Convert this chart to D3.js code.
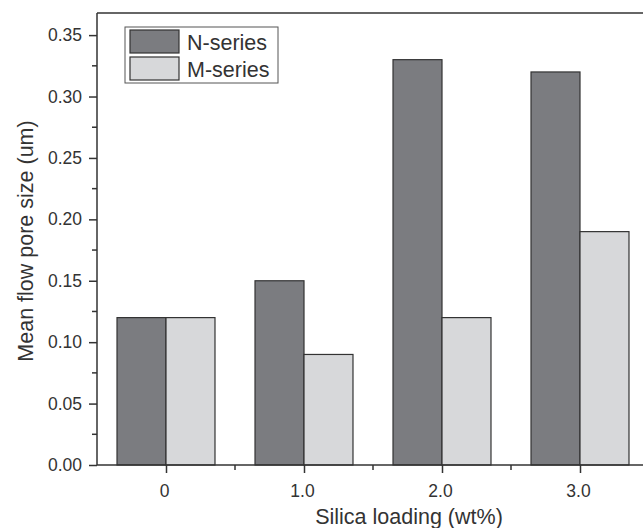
<!DOCTYPE html>
<html>
<head>
<meta charset="utf-8">
<script src="https://cdn.jsdelivr.net/npm/d3@7"></script>
<style>
  body { margin: 0; background: #fff; }
  svg { display: block; font-family: "Liberation Sans", Arial, sans-serif; }
</style>
</head>
<body>
<svg id="chart"></svg>
<script>
// data
const categories = [0, 1, 2, 3];
const categoryLabels = ["0", "1.0", "2.0", "3.0"];
const seriesNames = ["N-series", "M-series"];
const nSeries = [0.12, 0.15, 0.33, 0.32];
const mSeries = [0.12, 0.09, 0.12, 0.19];
const yTicks = [0, 0.05, 0.10, 0.15, 0.20, 0.25, 0.30, 0.35];
const yMinorTicks = [0.025, 0.075, 0.125, 0.175, 0.225, 0.275, 0.325];
const xMinorTicks = [0.5, 1.5, 2.5];

const width = 643, height = 528;
const plotLeft = 97, plotTop = 13, plotRight = 649, plotBottom = 465;
const colors = ["#7b7c80", "#d7d8da"];
const stroke = "#333";
const textColor = "#333";

const svg = d3.select("#chart").attr("width", width).attr("height", height);

const x = d3.scaleLinear().domain([-0.5, 3.5]).range([plotLeft, plotRight]);
const y = d3.scaleLinear().domain([0, 0.368]).range([plotBottom, plotTop]);
const barW = (x(1) - x(0)) * 0.355;

const series = [nSeries, mSeries];

// bars
series.forEach((vals, si) => {
    svg.append("g")
        .selectAll("rect")
        .data(categories)
        .enter()
        .append("rect")
        .attr("x", d => si === 0 ? x(d) - barW : x(d))
        .attr("y", (d, i) => y(vals[i]))
        .attr("width", barW)
        .attr("height", (d, i) => y(0) - y(vals[i]))
        .attr("fill", colors[si])
        .attr("stroke", stroke)
        .attr("stroke-width", 1.2);
});

// frame lines (top and right, right one falls outside the picture)
svg.append("line")
    .attr("x1", plotLeft).attr("x2", plotRight)
    .attr("y1", plotTop).attr("y2", plotTop)
    .attr("stroke", stroke).attr("stroke-width", 1.5);
svg.append("line")
    .attr("x1", plotRight).attr("x2", plotRight)
    .attr("y1", plotTop).attr("y2", plotBottom)
    .attr("stroke", stroke).attr("stroke-width", 1.5);

// y axis
const yAxis = svg.append("g")
    .attr("transform", `translate(${plotLeft},0)`)
    .call(d3.axisLeft(y).tickValues(yTicks).tickFormat(d3.format(".2f")).tickSize(8).tickSizeOuter(0));
yAxis.select(".domain").attr("stroke", stroke).attr("stroke-width", 1.5)
    .attr("d", `M0,${plotBottom}V${plotTop}`);
yAxis.selectAll(".tick line").attr("stroke", stroke).attr("stroke-width", 1.5);
yAxis.selectAll(".tick text")
    .attr("x", -15)
    .style("font-size", "17.5px")
    .style("font-family", "'Liberation Sans', Arial, sans-serif")
    .attr("fill", textColor);

svg.append("g")
    .selectAll("line")
    .data(yMinorTicks)
    .enter()
    .append("line")
    .attr("x1", plotLeft - 5).attr("x2", plotLeft)
    .attr("y1", d => y(d)).attr("y2", d => y(d))
    .attr("stroke", stroke).attr("stroke-width", 1.5);

// x axis
const xAxis = svg.append("g")
    .attr("transform", `translate(0,${plotBottom})`)
    .call(d3.axisBottom(x).tickValues(categories).tickFormat((d, i) => categoryLabels[i]).tickSize(8).tickSizeOuter(0));
xAxis.select(".domain").attr("stroke", stroke).attr("stroke-width", 1.5)
    .attr("d", `M${plotLeft},0H${plotRight}`);
xAxis.selectAll(".tick line").attr("stroke", stroke).attr("stroke-width", 1.5);
xAxis.selectAll(".tick text")
    .attr("y", 20)
    .attr("x", -2)
    .style("font-size", "17.5px")
    .style("font-family", "'Liberation Sans', Arial, sans-serif")
    .attr("fill", textColor);

svg.append("g")
    .selectAll("line")
    .data(xMinorTicks)
    .enter()
    .append("line")
    .attr("x1", d => x(d)).attr("x2", d => x(d))
    .attr("y1", plotBottom).attr("y2", plotBottom + 5)
    .attr("stroke", stroke).attr("stroke-width", 1.5);

// axis titles
svg.append("text")
    .attr("x", 409)
    .attr("y", 524)
    .attr("text-anchor", "middle")
    .style("font-size", "21.5px")
    .attr("fill", textColor)
    .text("Silica loading (wt%)");

svg.append("text")
    .attr("transform", "translate(33,241) rotate(-90)")
    .attr("text-anchor", "middle")
    .style("font-size", "21.5px")
    .attr("fill", textColor)
    .text("Mean flow pore size (um)");

// legend
const legend = svg.append("g").attr("transform", "translate(125,27)");
legend.append("rect")
    .attr("width", 153).attr("height", 56)
    .attr("fill", "#fff").attr("stroke", "#555").attr("stroke-width", 1);
seriesNames.forEach((name, i) => {
    legend.append("rect")
        .attr("x", 5).attr("y", 3 + i * 27)
        .attr("width", 49).attr("height", 23)
        .attr("fill", colors[i]).attr("stroke", stroke).attr("stroke-width", 1.2);
    legend.append("text")
        .attr("x", 62).attr("y", 23 + i * 26.5)
        .style("font-size", "21.5px")
        .attr("fill", textColor)
        .text(name);
});
</script>
</body>
</html>
